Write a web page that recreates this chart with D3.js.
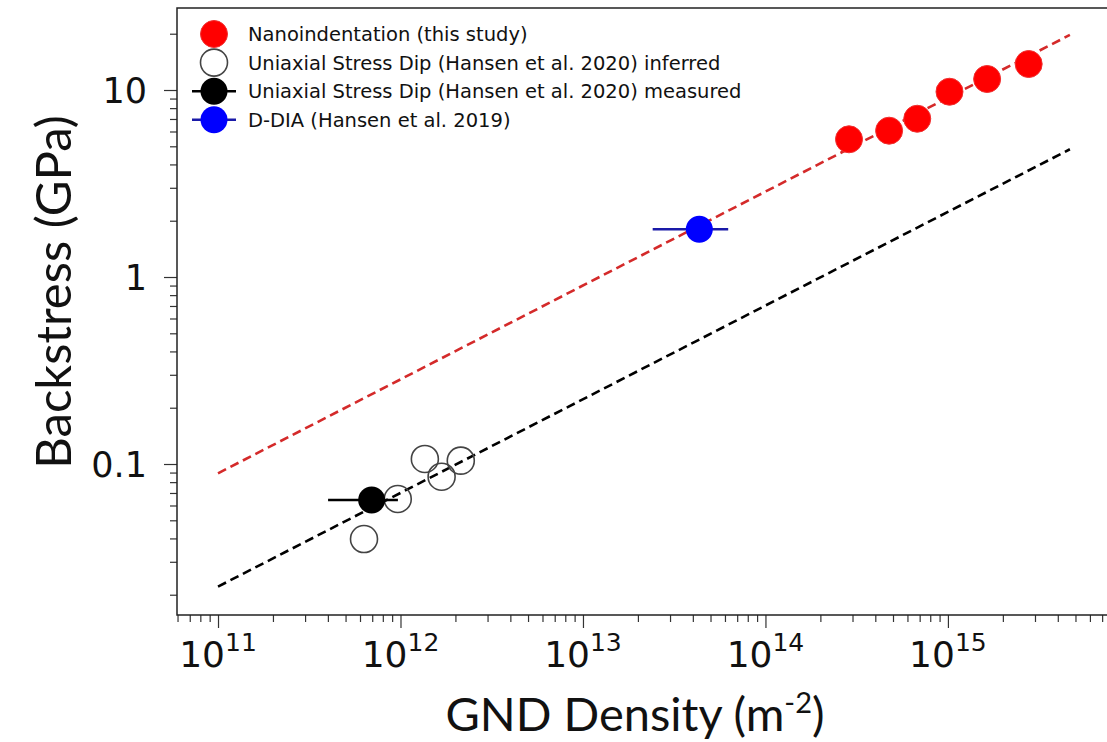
<!DOCTYPE html>
<html><head><meta charset="utf-8">
<script src="https://cdn.jsdelivr.net/npm/d3@7"></script>
<style>body{margin:0;background:#fff}</style>
</head><body><svg id="c" width="1107" height="742"></svg>
<script>
// ---- data ----
const nanoX = [2.87e14, 4.76e14, 6.79e14, 1.02e15, 1.64e15, 2.77e15];
const nanoY = [5.45, 6.06, 7.02, 9.79, 11.45, 13.77];
const inferredX = [6.31e11, 9.66e11, 1.36e12, 1.68e12, 2.14e12];
const inferredY = [0.0397, 0.065, 0.1064, 0.0855, 0.1042];
const measuredX = [6.95e11];
const measuredY = [0.0642];
const measuredXLo = [4.01e11];
const measuredXHi = [9.68e11];
const ddiaX = [4.34e13];
const ddiaY = [1.80];
const ddiaXLo = [2.41e13];
const ddiaXHi = [6.25e13];
const fitNanoX = [1e11, 4.66e15];
const fitNanoY = [0.0892, 19.7];
const fitUniX = [1e11, 4.66e15];
const fitUniY = [0.0221, 4.82];
const xMajorTicks = [1e11, 1e12, 1e13, 1e14, 1e15];
const xTickExp = ["11", "12", "13", "14", "15"];
const yMajorTicks = [0.1, 1, 10];
const yTickLabels = ["0.1", "1", "10"];
const legendLabels = [
  "Nanoindentation (this study)",
  "Uniaxial Stress Dip (Hansen et al. 2020) inferred",
  "Uniaxial Stress Dip (Hansen et al. 2020) measured",
  "D-DIA (Hansen et al. 2019)"
];

// ---- layout ----
const svg = d3.select("#c");
const P = {left: 177, top: 8, bottom: 615, right: 1110};
const x = d3.scaleLog().domain([5.96e10, 7.73e15]).range([P.left, P.right]);
const y = d3.scaleLog().domain([0.01558, 27.45]).range([P.bottom, P.top]);

const RED = "#ff0000", REDLINE = "#d42a2a", BLUE = "#0000ff", BLUEBAR = "#1a1aa8";

svg.append("defs").append("clipPath").attr("id", "clip")
  .append("rect").attr("x", P.left).attr("y", P.top)
  .attr("width", P.right - P.left).attr("height", P.bottom - P.top);

// ticks
const xMinor = x.ticks().filter(v => !xMajorTicks.some(m => Math.abs(m - v) / m < 1e-6));
const yMinor = y.ticks().filter(v => !yMajorTicks.some(m => Math.abs(m - v) / m < 1e-6));

function styleAxis(g) {
  g.select(".domain").remove();
  g.selectAll(".tick line").attr("stroke", "#333").attr("stroke-width", 1.2);
  g.selectAll(".tick text").remove();
}
svg.append("g").attr("transform", `translate(0,${P.bottom})`)
  .call(d3.axisBottom(x).tickValues(xMinor).tickSize(7).tickFormat("")).call(styleAxis);
svg.append("g").attr("transform", `translate(0,${P.bottom})`)
  .call(d3.axisBottom(x).tickValues(xMajorTicks).tickSize(13).tickFormat("")).call(styleAxis);
svg.append("g").attr("transform", `translate(${P.left},0)`)
  .call(d3.axisLeft(y).tickValues(yMinor).tickSize(7).tickFormat("")).call(styleAxis);
svg.append("g").attr("transform", `translate(${P.left},0)`)
  .call(d3.axisLeft(y).tickValues(yMajorTicks).tickSize(13).tickFormat("")).call(styleAxis);

// tick labels
const xl = svg.append("g").attr("font-family", "DejaVu Sans").attr("fill", "#111");
xMajorTicks.forEach((v, i) => {
  const t = xl.append("text").attr("x", x(v)).attr("y", 667)
    .attr("text-anchor", "middle").attr("font-size", 36);
  t.append("tspan").text("10");
  t.append("tspan").attr("dy", -16).attr("font-size", 25).text(xTickExp[i]);
});
const yl = svg.append("g").attr("font-family", "DejaVu Sans").attr("fill", "#111");
yMajorTicks.forEach((v, i) => {
  yl.append("text").attr("x", 147).attr("y", y(v)).attr("dy", "0.36em")
    .attr("text-anchor", "end").attr("font-size", 35).text(yTickLabels[i]);
});

// axis titles
const xt = svg.append("text").attr("x", 635).attr("y", 731)
  .attr("text-anchor", "middle").attr("font-family", "Lato").attr("font-size", 47).attr("fill", "#111");
xt.append("tspan").text("GND Density (m");
xt.append("tspan").attr("dy", -18).attr("font-size", 29).text("-2");
xt.append("tspan").attr("dy", 18).text(")");
svg.append("text").attr("transform", "translate(71,292) rotate(-90)")
  .attr("text-anchor", "middle").attr("font-family", "Lato").attr("font-size", 49).attr("fill", "#111")
  .text("Backstress (GPa)");

// data layer
const g = svg.append("g").attr("clip-path", "url(#clip)");
const line = d3.line().x(d => x(d[0])).y(d => y(d[1]));
g.append("path").datum(d3.zip(fitNanoX, fitNanoY)).attr("d", line)
  .attr("fill", "none").attr("stroke", REDLINE).attr("stroke-width", 2.6).attr("stroke-dasharray", "9,5");
g.append("path").datum(d3.zip(fitUniX, fitUniY)).attr("d", line)
  .attr("fill", "none").attr("stroke", "#000").attr("stroke-width", 2.6).attr("stroke-dasharray", "9,5");

const R = 13.5;
g.selectAll(".inf").data(d3.zip(inferredX, inferredY)).join("circle")
  .attr("cx", d => x(d[0])).attr("cy", d => y(d[1])).attr("r", R)
  .attr("fill", "none").attr("stroke", "#444").attr("stroke-width", 1.6);

g.selectAll(".meb").data(d3.zip(measuredXLo, measuredXHi, measuredY)).join("line")
  .attr("x1", d => x(d[0])).attr("x2", d => x(d[1])).attr("y1", d => y(d[2])).attr("y2", d => y(d[2]))
  .attr("stroke", "#000").attr("stroke-width", 2.6);
g.selectAll(".mea").data(d3.zip(measuredX, measuredY)).join("circle")
  .attr("cx", d => x(d[0])).attr("cy", d => y(d[1])).attr("r", R).attr("fill", "#000");

g.selectAll(".deb").data(d3.zip(ddiaXLo, ddiaXHi, ddiaY)).join("line")
  .attr("x1", d => x(d[0])).attr("x2", d => x(d[1])).attr("y1", d => y(d[2])).attr("y2", d => y(d[2]))
  .attr("stroke", BLUEBAR).attr("stroke-width", 2.6);
g.selectAll(".dd").data(d3.zip(ddiaX, ddiaY)).join("circle")
  .attr("cx", d => x(d[0])).attr("cy", d => y(d[1])).attr("r", R).attr("fill", BLUE);

g.selectAll(".nano").data(d3.zip(nanoX, nanoY)).join("circle")
  .attr("cx", d => x(d[0])).attr("cy", d => y(d[1])).attr("r", R)
  .attr("fill", RED).attr("stroke", "#f03030").attr("stroke-width", 1);

// frame
svg.append("path")
  .attr("d", `M${P.right},${P.top}H${P.left}V${P.bottom}H${P.right}`)
  .attr("fill", "none").attr("stroke", "#222").attr("stroke-width", 1.5);

// legend
const lg = svg.append("g");
const rowY = i => 34 + 28.6 * i;
const mx = 214;
legendLabels.forEach((lab, i) => {
  const cy = rowY(i);
  if (i === 2 || i === 3) {
    lg.append("line").attr("x1", mx - 22).attr("x2", mx + 22).attr("y1", cy).attr("y2", cy)
      .attr("stroke", i === 2 ? "#000" : BLUEBAR).attr("stroke-width", 2.6);
  }
  const c = lg.append("circle").attr("cx", mx).attr("cy", cy).attr("r", R);
  if (i === 0) c.attr("fill", RED).attr("stroke", "#f03030").attr("stroke-width", 1);
  if (i === 1) c.attr("fill", "#fff").attr("stroke", "#444").attr("stroke-width", 1.6);
  if (i === 2) c.attr("fill", "#000");
  if (i === 3) c.attr("fill", BLUE);
  lg.append("text").attr("x", 248).attr("y", cy).attr("dy", "0.36em")
    .attr("font-family", "DejaVu Sans").attr("font-size", 19.5).attr("fill", "#111").text(lab);
});
</script></body></html>
